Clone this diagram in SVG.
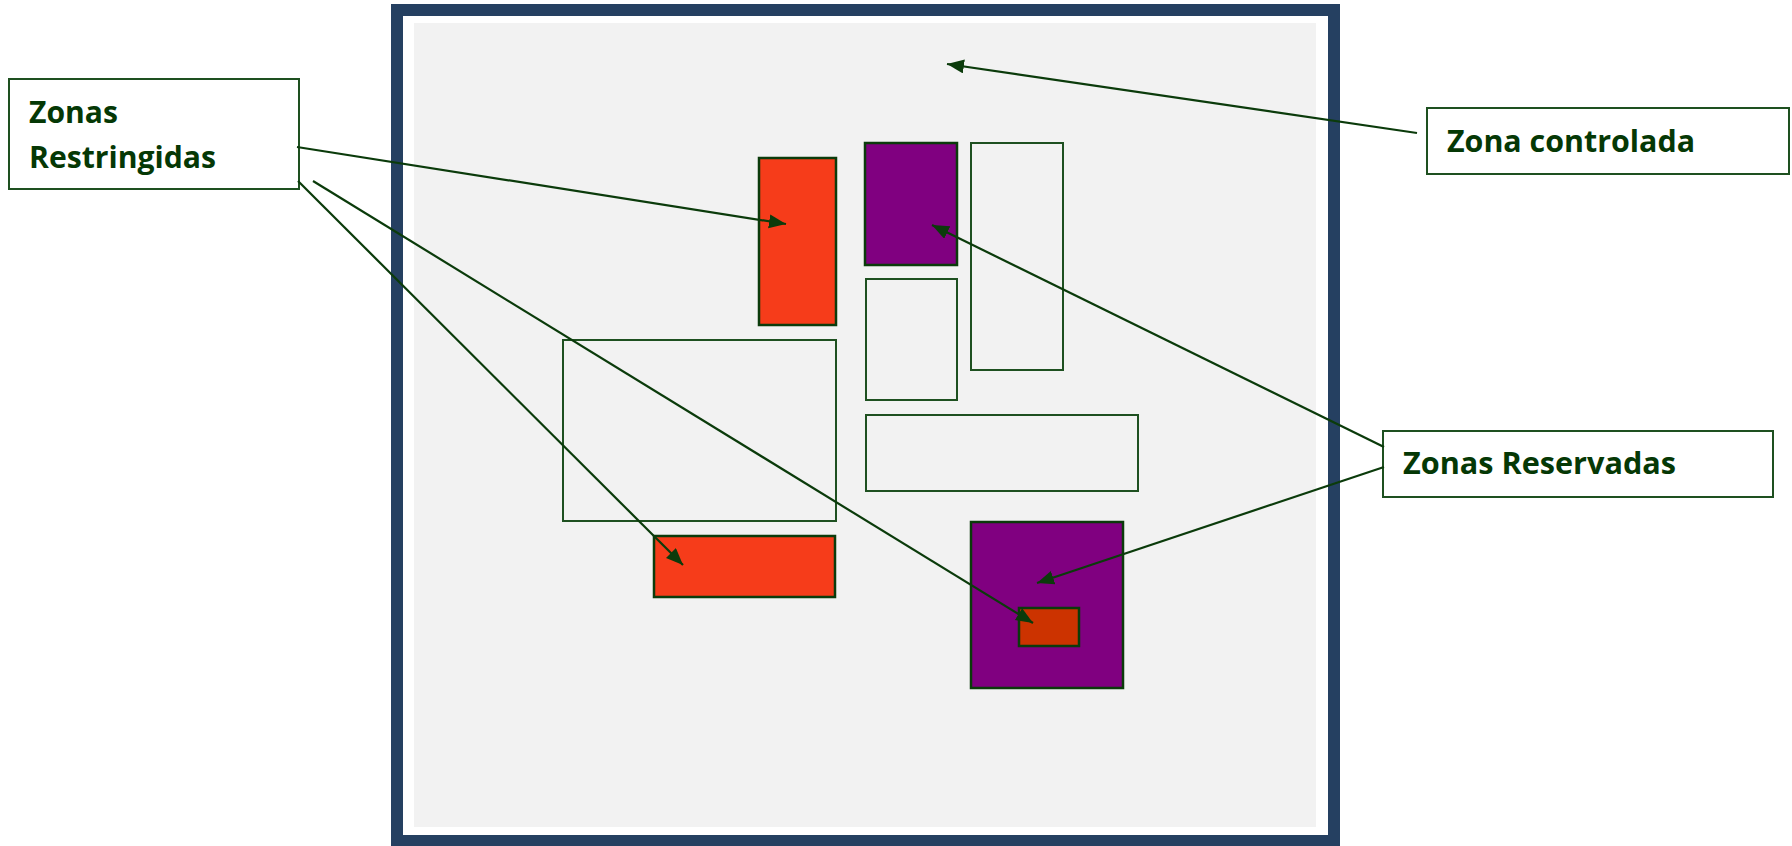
<svg xmlns="http://www.w3.org/2000/svg" width="1792" height="846" viewBox="0 0 1792 846">
<defs>
<marker id="arr" markerUnits="userSpaceOnUse" markerWidth="20" markerHeight="16" refX="17" refY="7" orient="auto">
<path d="M0,0 L17,7 L0,14 Z" fill="#0B3B0B"/>
</marker>
<style>
.lbl{fill:#fff;stroke:#1E5020;stroke-width:2}
.txt{font-family:"Open Sans","Noto Sans",sans-serif;font-weight:700;font-size:29.5px;fill:#053805}
.out{fill:none;stroke:#1E5020;stroke-width:2}
.red{fill:#F63C1A;stroke:#0B3B0B;stroke-width:2.5}
.pur{fill:#800080;stroke:#0B3B0B;stroke-width:2.5}
.conn{fill:none;stroke:#0B3B0B;stroke-width:2.2;marker-end:url(#arr)}
</style>
</defs>
<rect width="1792" height="846" fill="#fff"/>
<g id="frame">
<rect x="397" y="10" width="937" height="831" fill="#fff" stroke="#254061" stroke-width="12"/>
<rect x="414" y="23" width="902" height="804" fill="#F2F2F2"/>
</g>
<g id="zones">
<rect id="red-tall" class="red" x="759" y="158" width="77" height="167"/>
<rect id="purple-top" class="pur" x="865" y="143" width="92" height="122"/>
<rect id="out-small" class="out" x="866" y="279" width="91" height="121"/>
<rect id="out-tall" class="out" x="971" y="143" width="92" height="227"/>
<rect id="out-large" class="out" x="563" y="340" width="273" height="181"/>
<rect id="out-wide" class="out" x="866" y="415" width="272" height="76"/>
<rect id="red-bottom" class="red" x="654" y="536" width="181" height="61"/>
<rect id="purple-big" class="pur" x="971" y="522" width="152" height="166"/>
<rect id="red-small" x="1019" y="608" width="60" height="38" fill="#CC3300" stroke="#0B3B0B" stroke-width="2.5"/>
</g>
<g id="label-restringidas">
<rect class="lbl" x="9" y="79" width="290" height="110"/>
<text class="txt" x="29" y="123" textLength="89" lengthAdjust="spacingAndGlyphs">Zonas</text>
<text class="txt" x="29" y="168" textLength="187" lengthAdjust="spacingAndGlyphs">Restringidas</text>
</g>
<g id="label-controlada">
<rect class="lbl" x="1427" y="108" width="362" height="66"/>
<text class="txt" x="1447" y="152" textLength="248" lengthAdjust="spacingAndGlyphs">Zona controlada</text>
</g>
<g id="label-reservadas">
<rect class="lbl" x="1383" y="431" width="390" height="66"/>
<text class="txt" x="1403" y="474" textLength="273" lengthAdjust="spacingAndGlyphs">Zonas Reservadas</text>
</g>
<g id="connectors">
<line class="conn" x1="297" y1="147" x2="786" y2="224"/>
<line class="conn" x1="313" y1="181" x2="1033" y2="623"/>
<line class="conn" x1="298" y1="181" x2="683" y2="565"/>
<line class="conn" x1="1417" y1="133" x2="947" y2="64"/>
<line class="conn" x1="1384" y1="447" x2="932" y2="225"/>
<line class="conn" x1="1384" y1="467" x2="1037" y2="583"/>
</g>
</svg>
